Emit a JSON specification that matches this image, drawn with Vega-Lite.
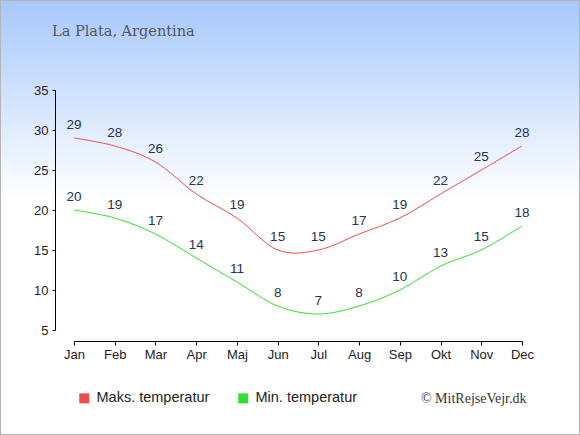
{
  "$schema": "https://vega.github.io/schema/vega-lite/v6.json",
  "width": 580,
  "height": 435,
  "autosize": {"type": "none"},
  "padding": 0,
  "background": "#ffffff",
  "config": {
    "view": {
      "fill": {
        "x1": 0, "y1": 0, "x2": 0, "y2": 1,
        "gradient": "linear",
        "stops": [
          {"offset": 0, "color": "#a6c8fc"},
          {"offset": 0.46, "color": "#ffffff"},
          {"offset": 1, "color": "#ffffff"}
        ]
      },
      "stroke": "#b4b4b4",
      "strokeWidth": 2
    },
    "axis": {
      "labelFont": "Liberation Sans",
      "labelColor": "#222222",
      "domainColor": "#000000",
      "tickColor": "#000000",
      "grid": false
    }
  },
  "title": {
    "text": "La Plata, Argentina",
    "anchor": "start",
    "frame": "group",
    "orient": "top",
    "offset": -39,
    "dx": 52,
    "font": "DejaVu Serif",
    "fontSize": 14.5,
    "fontWeight": "normal",
    "color": "#555555"
  },
  "data": {
    "values": [
      {"month": "Jan", "type": "Maks. temperatur", "temp": 29},
      {"month": "Feb", "type": "Maks. temperatur", "temp": 28},
      {"month": "Mar", "type": "Maks. temperatur", "temp": 26},
      {"month": "Apr", "type": "Maks. temperatur", "temp": 22},
      {"month": "Maj", "type": "Maks. temperatur", "temp": 19},
      {"month": "Jun", "type": "Maks. temperatur", "temp": 15},
      {"month": "Jul", "type": "Maks. temperatur", "temp": 15},
      {"month": "Aug", "type": "Maks. temperatur", "temp": 17},
      {"month": "Sep", "type": "Maks. temperatur", "temp": 19},
      {"month": "Okt", "type": "Maks. temperatur", "temp": 22},
      {"month": "Nov", "type": "Maks. temperatur", "temp": 25},
      {"month": "Dec", "type": "Maks. temperatur", "temp": 28},
      {"month": "Jan", "type": "Min. temperatur", "temp": 20},
      {"month": "Feb", "type": "Min. temperatur", "temp": 19},
      {"month": "Mar", "type": "Min. temperatur", "temp": 17},
      {"month": "Apr", "type": "Min. temperatur", "temp": 14},
      {"month": "Maj", "type": "Min. temperatur", "temp": 11},
      {"month": "Jun", "type": "Min. temperatur", "temp": 8},
      {"month": "Jul", "type": "Min. temperatur", "temp": 7},
      {"month": "Aug", "type": "Min. temperatur", "temp": 8},
      {"month": "Sep", "type": "Min. temperatur", "temp": 10},
      {"month": "Okt", "type": "Min. temperatur", "temp": 13},
      {"month": "Nov", "type": "Min. temperatur", "temp": 15},
      {"month": "Dec", "type": "Min. temperatur", "temp": 18}
    ]
  },
  "encoding": {
    "x": {
      "field": "month",
      "type": "ordinal",
      "sort": null,
      "scale": {"type": "point", "range": [74, 522], "padding": 0},
      "axis": {
        "orient": "bottom",
        "offset": -94,
        "labelAngle": 0,
        "labelFontSize": 13,
        "labelPadding": 3,
        "tickSize": 4,
        "title": "© MitRejseVejr.dk",
        "titleFont": "Liberation Serif",
        "titleFontSize": 14,
        "titleFontWeight": "normal",
        "titleColor": "#333333",
        "titleAlign": "right",
        "titleAnchor": "start",
        "titleBaseline": "middle",
        "titleX": 526,
        "titleY": 57
      }
    },
    "y": {
      "field": "temp",
      "type": "quantitative",
      "scale": {"domain": [5, 35], "range": [330, 90], "nice": false, "zero": false},
      "axis": {
        "orient": "left",
        "offset": -55,
        "values": [5, 10, 15, 20, 25, 30, 35],
        "labelFontSize": 13,
        "labelPadding": 4,
        "tickSize": 3,
        "title": null
      }
    },
    "color": {
      "field": "type",
      "type": "nominal",
      "scale": {
        "domain": ["Maks. temperatur", "Min. temperatur"],
        "range": ["#f04c4c", "#33dd33"]
      },
      "legend": {
        "title": null,
        "orient": "none",
        "legendX": 77,
        "legendY": 391,
        "direction": "horizontal",
        "symbolType": "square",
        "symbolSize": 25,
        "symbolStrokeWidth": 5,
        "symbolOpacity": 1,
        "labelFont": "Liberation Sans",
        "labelFontSize": 14.5,
        "labelColor": "#222222",
        "labelOffset": 5,
        "columnPadding": 20
      }
    }
  },
  "layer": [
    {
      "mark": {"type": "line", "interpolate": "cardinal", "strokeWidth": 1}
    },
    {
      "mark": {
        "type": "text",
        "baseline": "middle",
        "dy": -13,
        "font": "Liberation Sans",
        "fontSize": 13.5,
        "color": "#233350"
      },
      "encoding": {
        "text": {"field": "temp", "type": "quantitative"},
        "color": {"value": "#233350"}
      }
    }
  ]
}
